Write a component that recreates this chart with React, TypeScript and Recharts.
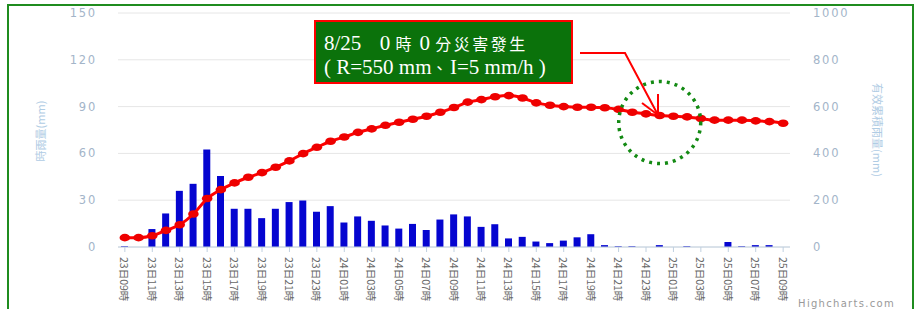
import React from 'react'
import {
  ComposedChart,
  Bar,
  Line,
  XAxis,
  YAxis,
  CartesianGrid,
  ReferenceDot,
} from 'recharts'

const hours = [
  '23日09時', '23日10時', '23日11時', '23日12時', '23日13時', '23日14時', '23日15時',
  '23日16時', '23日17時', '23日18時', '23日19時', '23日20時', '23日21時', '23日22時',
  '23日23時', '24日00時', '24日01時', '24日02時', '24日03時', '24日04時', '24日05時',
  '24日06時', '24日07時', '24日08時', '24日09時', '24日10時', '24日11時', '24日12時',
  '24日13時', '24日14時', '24日15時', '24日16時', '24日17時', '24日18時', '24日19時',
  '24日20時', '24日21時', '24日22時', '24日23時', '25日00時', '25日01時', '25日02時',
  '25日03時', '25日04時', '25日05時', '25日06時', '25日07時', '25日08時', '25日09時',
]

// 時雨量 (mm), left axis
const hourlyRain = [
  0.5, 0, 11.5, 21.5, 36, 40.5, 62.5,
  45.5, 24.5, 24.5, 18.5, 24.5, 28.8, 29.8,
  22.6, 26.2, 15.7, 19.6, 16.8, 13.8, 11.8,
  14.8, 10.9, 17.6, 20.9, 19.6, 12.9, 14.6,
  5.5, 6.5, 3.5, 2.5, 4.1, 6.2, 8.2,
  1.2, 0.5, 0.5, 0, 1.2, 0, 0.5,
  0, 0, 3.2, 0.5, 1.2, 1.2, 0,
]

// 有效累積雨量 (mm), right axis
const effectiveRain = [
  40, 40, 48, 71, 95, 141, 207,
  245, 274, 298, 318, 341, 368, 399,
  426, 452, 470, 490, 505, 520, 533,
  546, 559, 576, 596, 619, 630, 642,
  647, 637, 616, 606, 600, 597, 597,
  595, 588, 576, 569, 562, 559, 556,
  549, 542, 542, 542, 539, 536, 529,
]

const rainTicks = [0, 30, 60, 90, 120, 150]
const effectiveTicks = [0, 200, 400, 600, 800, 1000]

const data = hours.map((hour, i) => ({
  hour,
  rain: hourlyRain[i],
  effective: effectiveRain[i],
}))

const axisFont = '"DejaVu Sans", Verdana, sans-serif'
const cjkFont = '"Noto Sans CJK TC", "Noto Sans", sans-serif'
const tickStyle = { fill: '#a3b5c9', fontSize: 11.5, fontFamily: axisFont, letterSpacing: 1.8 }

function HourTick({ x, y, payload }: any) {
  return (
    <text
      x={x}
      y={y}
      transform={`rotate(90, ${x}, ${y})`}
      textAnchor="start"
      dominantBaseline="central"
      fill="#666666"
      fontSize={10.5}
      fontFamily={cjkFont}
    >
      {payload.value}
    </text>
  )
}

function OvalDot({ cx, cy, index }: any) {
  return <ellipse key={index} cx={cx} cy={cy} rx={5.3} ry={3.8} fill="#ee0000" />
}

const cjk = (s: string) => (
  <span style={{ fontFamily: cjkFont, fontSize: 16, letterSpacing: 2.5 }}>{s}</span>
)

export default function App() {
  return (
    <div
      style={{
        position: 'absolute',
        left: 0,
        top: 0,
        width: 922,
        height: 309,
        overflow: 'hidden',
        background: '#fff',
      }}
    >
      <div
        style={{
          position: 'absolute',
          left: 7,
          top: 4,
          width: 907,
          height: 330,
          border: '2px solid #1f8c1f',
          boxSizing: 'border-box',
        }}
      />
      <div style={{ position: 'absolute', left: 0, top: 0 }}>
        <ComposedChart
          width={922}
          height={309}
          data={data}
          margin={{ top: 13, right: 0, bottom: 0, left: 0 }}
        >
          <CartesianGrid
            yAxisId="left"
            vertical={false}
            stroke="#e6e6e6"
            strokeWidth={1}
          />
          <XAxis
            dataKey="hour"
            height={62}
            interval={1}
            tickSize={5}
            tickMargin={5}
            tickLine={{ stroke: '#c0d0e0' }}
            axisLine={{ stroke: '#c0d0e0' }}
            tick={<HourTick />}
          />
          <YAxis
            yAxisId="left"
            width={118}
            domain={[0, 150]}
            ticks={rainTicks}
            tickSize={0}
            tickMargin={21}
            axisLine={false}
            tickLine={false}
            tick={tickStyle}
          />
          <YAxis
            yAxisId="right"
            orientation="right"
            width={132}
            domain={[0, 1000]}
            ticks={effectiveTicks}
            tickSize={0}
            tickMargin={23}
            axisLine={false}
            tickLine={false}
            tick={{ ...tickStyle, textAnchor: 'start' }}
          />
          <Bar
            yAxisId="left"
            dataKey="rain"
            fill="#0505d0"
            barSize={7}
            isAnimationActive={false}
          />
          <Line
            yAxisId="right"
            type="monotone"
            dataKey="effective"
            stroke="#ff0000"
            strokeWidth={3}
            dot={<OvalDot />}
            activeDot={false}
            isAnimationActive={false}
          />
          <ReferenceDot
            yAxisId="right"
            x="25日00時"
            y={532}
            r={41}
            fill="none"
            stroke="#138a13"
            strokeWidth={3.5}
            strokeDasharray="3 5"
          />
        </ComposedChart>
      </div>
      <svg
        width={922}
        height={309}
        style={{ position: 'absolute', left: 0, top: 0, pointerEvents: 'none' }}
      >
        <text
          x={40}
          y={131}
          transform="rotate(-90, 40, 131)"
          textAnchor="middle"
          dominantBaseline="central"
          fill="#b0cce4"
          fontSize={11}
          fontFamily={cjkFont}
        >
          時雨量(mm)
        </text>
        <text
          x={878}
          y={130}
          transform="rotate(90, 878, 130)"
          textAnchor="middle"
          dominantBaseline="central"
          fill="#b0cce4"
          fontSize={11}
          fontFamily={cjkFont}
        >
          有效累積雨量(mm)
        </text>
        <polyline
          points="580,53 625,53 658,115"
          fill="none"
          stroke="#ff0000"
          strokeWidth={2}
        />
        <line x1={658} y1={94} x2={658} y2={115} stroke="#ff0000" strokeWidth={2} />
        <line x1={642} y1={103} x2={658} y2={115} stroke="#ff0000" strokeWidth={2} />
        <text
          x={895}
          y={307}
          textAnchor="end"
          fill="#999999"
          fontSize={10}
          letterSpacing={1.3}
          fontFamily={axisFont}
        >
          Highcharts.com
        </text>
      </svg>
      <div
        style={{
          position: 'absolute',
          left: 314,
          top: 20,
          width: 259,
          height: 64,
          boxSizing: 'border-box',
          border: '2px solid #ff0000',
          background: '#0b720b',
          color: '#ffffff',
          fontFamily: '"Liberation Serif", "Times New Roman", serif',
          fontSize: 21,
          lineHeight: '24px',
          padding: '9px 0 0 8px',
          whiteSpace: 'pre',
        }}
      >
        <div>8/25{cjk('\u3000')}0 {cjk('時')} 0 {cjk('分災害發生')}</div>
        <div>( R=550 mm{cjk('、')}I=5 mm/h )</div>
      </div>
    </div>
  )
}
